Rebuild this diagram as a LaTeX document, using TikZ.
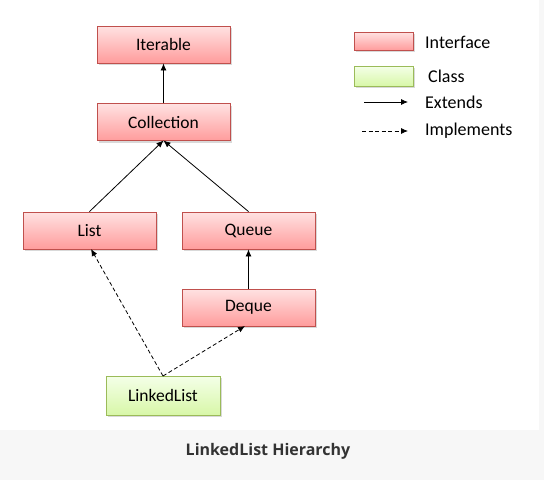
\documentclass[tikz,border=0pt]{standalone}
\usepackage{fontspec}
\setmainfont{Carlito}
\newfontfamily\footfont{Open Sans}
\usetikzlibrary{arrows.meta,shadows}
\definecolor{ifborder}{HTML}{C0504D}
\definecolor{iftop}{HTML}{FFE2E2}
\definecolor{ifbot}{HTML}{FF9C9C}
\definecolor{clborder}{HTML}{9BBB59}
\definecolor{cltop}{HTML}{F4FFE8}
\definecolor{clbot}{HTML}{D8F7A8}
\definecolor{footbg}{HTML}{F7F7F7}
\definecolor{foottxt}{HTML}{333333}
\tikzset{
  base/.style={draw, line width=0.9pt, minimum height=37pt, inner sep=0pt,
    font=\fontsize{17.5}{19}\selectfont,
    drop shadow={shadow xshift=2pt, shadow yshift=-2pt, fill=black, opacity=0.15}},
  iface/.style={base, draw=ifborder, top color=iftop, bottom color=ifbot, minimum width=133pt},
  cls/.style={base, draw=clborder, top color=cltop, bottom color=clbot, minimum width=114pt, minimum height=39pt},
  ext/.style={-{Latex[length=7pt,width=6pt]}, line width=0.8pt},
  impl/.style={-{Latex[length=7pt,width=6pt]}, line width=0.8pt, dash pattern=on 4pt off 2.5pt},
  legtxt/.style={anchor=west, inner sep=0pt, font=\fontsize{18}{20}\selectfont},
}
\begin{document}
\begin{tikzpicture}[x=1pt,y=-1pt]
\useasboundingbox (0,0) rectangle (544,480);
\fill[white] (0,0) rectangle (544,480);
\fill[footbg] (0,430) rectangle (544,480);
\fill[footbg] (539,0) rectangle (544,430);
\node[font=\footfont\fontsize{16}{18}\selectfont\bfseries, text=foottxt] (title) at (268,451) {LinkedList Hierarchy};

\node[iface] (iter) at (163.5,44.5) {Iterable};
\node[iface] (coll) at (163.5,122) {Collection};
\node[iface] (list) at (89.5,230.5) {List};
\node[iface] (queue) at (248.5,230.5) {Queue};
\node[iface] (deque) at (248.5,307.5) {Deque};
\node[cls] (ll) at (163,395.5) {LinkedList};

\coordinate (collb) at (163.5,140.5);
\coordinate (lltop) at (163,376);
\draw[ext] (coll.north) -- (iter.south);
\draw[ext] (list.north) -- (collb);
\draw[ext] (queue.north) -- (collb);
\draw[ext] (deque.north) -- (queue.south);
\coordinate (listb) at (91,249);
\coordinate (dequeb) at (245,326);
\draw[impl] (lltop) -- (listb);
\draw[impl] (lltop) -- (dequeb);

% legend
\node[iface, minimum width=59pt, minimum height=18pt] (legif) at (383.5,41) {};
\node[cls, minimum width=59pt, minimum height=20pt] (legcl) at (383.5,76) {};
\node[legtxt] (tif) at (425,42) {Interface};
\node[legtxt] (tcl) at (428,76) {Class};
\coordinate (e1) at (364,102);
\coordinate (e2) at (408,102);
\draw[ext] (e1) -- (e2);
\node[legtxt] (text) at (425,102) {Extends};
\coordinate (i1) at (362,131);
\coordinate (i2) at (408,131);
\draw[impl] (i1) -- (i2);
\node[legtxt] (timp) at (425,131) {Implements};
\end{tikzpicture}
\end{document}
